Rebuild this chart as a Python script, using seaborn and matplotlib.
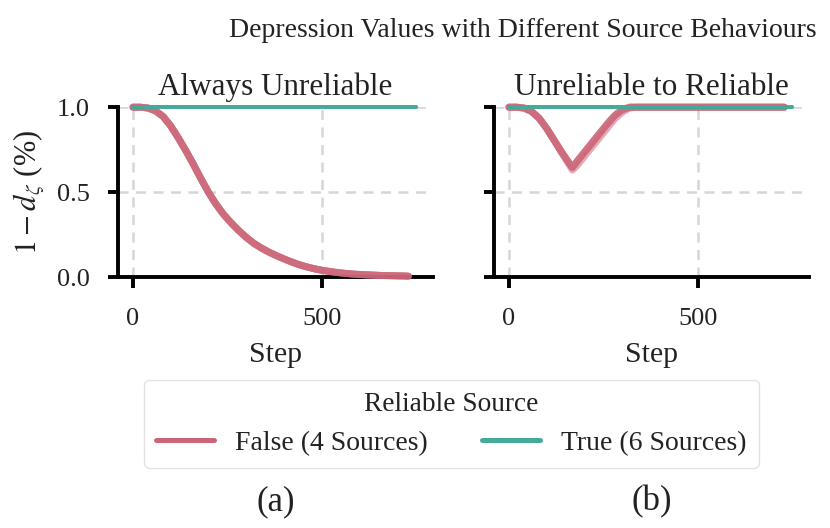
import numpy as np
import pandas as pd
import matplotlib
matplotlib.use("Agg")
import matplotlib.pyplot as plt
from matplotlib.lines import Line2D
import seaborn as sns

# ---------------- data ----------------
panel_titles = ["Always Unreliable", "Unreliable to Reliable"]
panel_tags = ["(a)", "(b)"]
group_labels = ["False (4 Sources)", "True (6 Sources)"]
group_colors = ["#CC6677", "#44AA99"]
x_ticks = [0, 500]
y_ticks = [0.0, 0.5, 1.0]
y_tick_labels = ["0.0", "0.5", "1.0"]

# steps for the unreliable sources
red_steps = [0, 20, 40, 60, 80, 100, 120, 140, 160, 180, 200, 220, 240, 260, 280,
             300, 320, 340, 360, 380, 400, 420, 440, 460, 480, 500, 520, 540, 560,
             580, 600, 620, 640, 660, 680, 700, 720, 730]
# panel (a): all four unreliable sources coincide
unrel_a = [1.0, 1.0, 0.995, 0.978, 0.945, 0.89, 0.82, 0.745, 0.665, 0.58, 0.5,
           0.43, 0.37, 0.32, 0.275, 0.235, 0.2, 0.172, 0.148, 0.127, 0.108, 0.09,
           0.074, 0.061, 0.05, 0.041, 0.034, 0.028, 0.023, 0.019, 0.016, 0.014,
           0.012, 0.01, 0.009, 0.008, 0.007, 0.006]

# panel (b): three sources follow the main dip, one dips slightly deeper
dip_steps = [0, 20, 40, 60, 80, 100, 120, 140, 160, 168, 180, 200, 220, 240, 260,
             280, 300, 320, 340, 400, 500, 600, 700, 730]
unrel_b_main = [1.0, 1.0, 0.995, 0.975, 0.935, 0.875, 0.805, 0.735, 0.67, 0.645,
                0.68, 0.735, 0.79, 0.845, 0.9, 0.95, 0.985, 1.0, 1.0, 1.0, 1.0,
                1.0, 1.0, 1.0]
unrel_b_alt = [1.0, 1.0, 0.995, 0.975, 0.935, 0.875, 0.805, 0.73, 0.66, 0.63,
               0.655, 0.71, 0.765, 0.82, 0.875, 0.93, 0.97, 0.995, 1.0, 1.0, 1.0,
               1.0, 1.0, 1.0]

# reliable sources stay at 1.0 throughout
rel_steps = [0, 100, 200, 300, 400, 500, 600, 700, 750]
reliable = [1.0, 1.0, 1.0, 1.0, 1.0, 1.0, 1.0, 1.0, 1.0]
n_reliable = 6

# ---------------- build long table ----------------
rows = []
def add(panel, group, source, steps, vals):
    for s, v in zip(steps, vals):
        rows.append(dict(Panel=panel, Group=group, Source=source, Step=s, Value=v))

for k in range(4):
    add(0, group_labels[0], k, red_steps, unrel_a)
for k in range(3):
    add(1, group_labels[0], k, dip_steps, unrel_b_main)
add(1, group_labels[0], 3, dip_steps, unrel_b_alt)
for p in range(2):
    for k in range(n_reliable):
        add(p, group_labels[1], 10 + k, rel_steps, reliable)
df = pd.DataFrame(rows)

# ---------------- style ----------------
sns.set_theme(style="ticks")
plt.rcParams["font.family"] = ["Liberation Serif", "DejaVu Serif"]
plt.rcParams["mathtext.fontset"] = "stix"
TXT = "#222222"

fig = plt.figure(figsize=(8.3, 5.28), dpi=100)
axes = [fig.add_axes([0.142, 0.475, 0.380, 0.322]),
        fig.add_axes([0.595, 0.475, 0.380, 0.322])]

palette = dict(zip(group_labels, group_colors))
for p, ax in enumerate(axes):
    sub = df[df.Panel == p]
    for grp, lw in zip(group_labels, [5.0, 2.7]):
        sns.lineplot(data=sub[sub.Group == grp], x="Step", y="Value", units="Source",
                     estimator=None, color=palette[grp], lw=lw, alpha=0.55,
                     ax=ax, legend=False, clip_on=False, zorder=3,
                     solid_capstyle="round")
    ax.set_xlim(-40, 796)
    ax.set_ylim(0, 1.0)
    ax.set_xticks(x_ticks)
    ax.set_yticks(y_ticks)
    ax.grid(True, ls=(0, (4, 3)), color="#d6d6d6", lw=1.8, zorder=0)
    ax.set_axisbelow(True)
    ax.set_title(panel_titles[p], fontsize=22.4, pad=8.5, color=TXT)
    ax.set_xlabel("Step", fontsize=21.5, color=TXT, labelpad=8)
    ax.tick_params(axis="x", labelsize=19, length=8, width=2.8, colors="black",
                   labelcolor=TXT, pad=14.5)
    ax.tick_params(axis="y", labelsize=19, length=7, width=2.8, colors="black",
                   labelcolor=TXT, pad=13)
    for sp in ["left", "bottom"]:
        ax.spines[sp].set_linewidth(2.8)
        ax.spines[sp].set_color("black")
    sns.despine(ax=ax)

axes[0].set_yticklabels(y_tick_labels)
axes[0].set_ylabel(r"$1 - d_\zeta$ (%)", fontsize=22, color=TXT, labelpad=7.5)
axes[1].set_yticklabels([])
axes[1].set_ylabel("")

fig.text(0.630, 0.943, "Depression Values with Different Source Behaviours",
         ha="center", va="center", fontsize=20, color=TXT)

handles = [Line2D([0], [0], color=c, lw=3.6, solid_capstyle="round") for c in group_colors]
leg = fig.legend(handles, group_labels, title="Reliable Source", ncol=2,
                 loc="center", bbox_to_anchor=(0.5438, 0.1975), fontsize=20,
                 title_fontsize=19.7, frameon=True, handlelength=2.1,
                 handletextpad=0.76, columnspacing=1.94, borderpad=0.42,
                 labelspacing=0.5)
leg.get_frame().set_edgecolor("#dddddd")
leg.get_frame().set_linewidth(1.0)
for t in leg.get_texts():
    t.set_color(TXT)
leg.get_title().set_color(TXT)

for ax, tag in zip(axes, panel_tags):
    bb = ax.get_position()
    fig.text((bb.x0 + bb.x1) / 2, 0.049, tag, ha="center", va="center",
             fontsize=25, color=TXT)

fig.savefig("out.png", dpi=100)
